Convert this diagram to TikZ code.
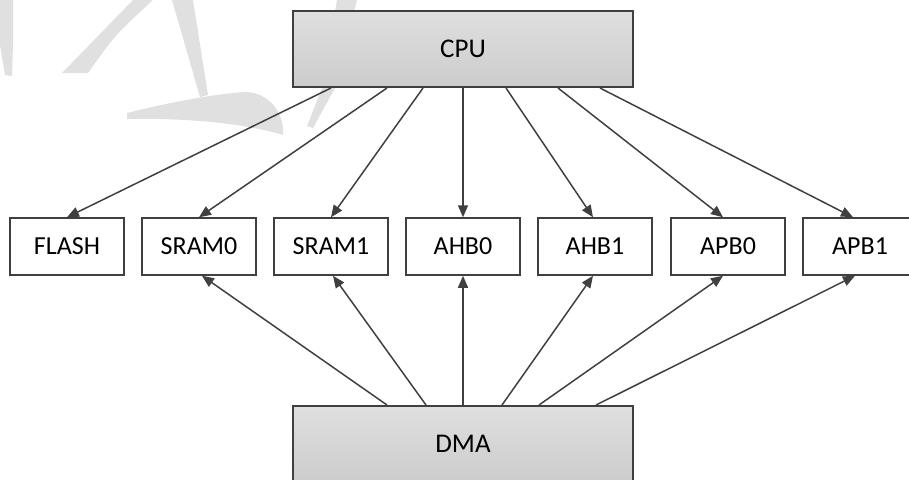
\documentclass[tikz,border=0pt]{standalone}
\usepackage{fontspec}
\setmainfont{Carlito}
\usepackage{tikz}
\usetikzlibrary{arrows.meta,positioning,calc}
\definecolor{edgegray}{HTML}{404040}
\definecolor{markgray}{HTML}{E0E0E0}
\tikzset{unit/.style={draw=edgegray,line width=0.75pt,rectangle,minimum width=57pt,minimum height=28.5pt,inner sep=0pt,align=center}}
\tikzset{master/.style={draw=edgegray,line width=1pt,rectangle,minimum width=170pt,minimum height=38pt,inner sep=0pt,top color=gray!25,bottom color=gray!40,font=\fontsize{13.5}{16}\selectfont}}

\begin{document}
\begin{tikzpicture}[-, >={Triangle[length=6pt,width=5pt]}, x=0.5pt, y=-0.5pt, font=\fontsize{13}{16}\selectfont]
\tikzstyle{every edge}=[draw=edgegray,line width=0.75pt]
    \useasboundingbox (0,0) rectangle (909,479);
    % watermark in the background
    \fill[markgray] (0,0) -- (13,0) -- (13,45) -- (12,76) -- (5,75) -- (0,45) -- cycle;
    \fill[markgray] (133,0) -- (153,0) .. controls (115,35) .. (88,73) -- (62,73) -- cycle;
    \fill[markgray] (172,0) -- (193,0) -- (208,95) -- (200,97) -- cycle;
    \fill[markgray] (127,113) .. controls (170,102) and (215,94) .. (245,92) .. controls (270,92) and (285,115) .. (283,135) .. controls (240,122) and (180,118) .. (127,119) -- cycle;
    \fill[markgray] (337,0) -- (357,0) -- (335,88) -- (313,128) -- (307,126) -- (322,88) -- cycle;
    % masters
    \node[master] (cpu) at (463,49) {CPU};
    \node[master] (dma) at (463,444) {DMA};
    % slaves
    \node[unit] (flash) at (67,246.5) {FLASH};
    \node[unit] (sram0) at (199,246.5) {SRAM0};
    \node[unit] (sram1) at (331,246.5) {SRAM1};
    \node[unit] (ahb0) at (463,246.5) {AHB0};
    \node[unit] (ahb1) at (595,246.5) {AHB1};
    \node[unit] (apb0) at (728,246.5) {APB0};
    \node[unit] (apb1) at (860,246.5) {APB1};
    % CPU to slaves
    \path[->] ($(cpu.south)+(-132,0)$) edge (flash.north);
    \path[->] ($(cpu.south)+(-76,0)$) edge (sram0.north);
    \path[->] ($(cpu.south)+(-40,0)$) edge (sram1.north);
    \path[->] (cpu.south) edge (ahb0.north);
    \path[->] ($(cpu.south)+(43,0)$) edge ($(ahb1.north)+(-2,0)$);
    \path[->] ($(cpu.south)+(95,0)$) edge ($(apb0.north)+(-5,0)$);
    \path[->] ($(cpu.south)+(137,0)$) edge ($(apb1.north)+(-7,0)$);
    % DMA to slaves
    \path[->] ($(dma.north)+(-76,0)$) edge ($(sram0.south)+(3,0)$);
    \path[->] ($(dma.north)+(-37,0)$) edge ($(sram1.south)+(2,0)$);
    \path[->] (dma.north) edge (ahb0.south);
    \path[->] ($(dma.north)+(39,0)$) edge ($(ahb1.south)+(-2,0)$);
    \path[->] ($(dma.north)+(76,0)$) edge ($(apb0.south)+(-5,0)$);
    \path[->] ($(dma.north)+(133,0)$) edge ($(apb1.south)+(-5,0)$);
\end{tikzpicture}
\end{document}
